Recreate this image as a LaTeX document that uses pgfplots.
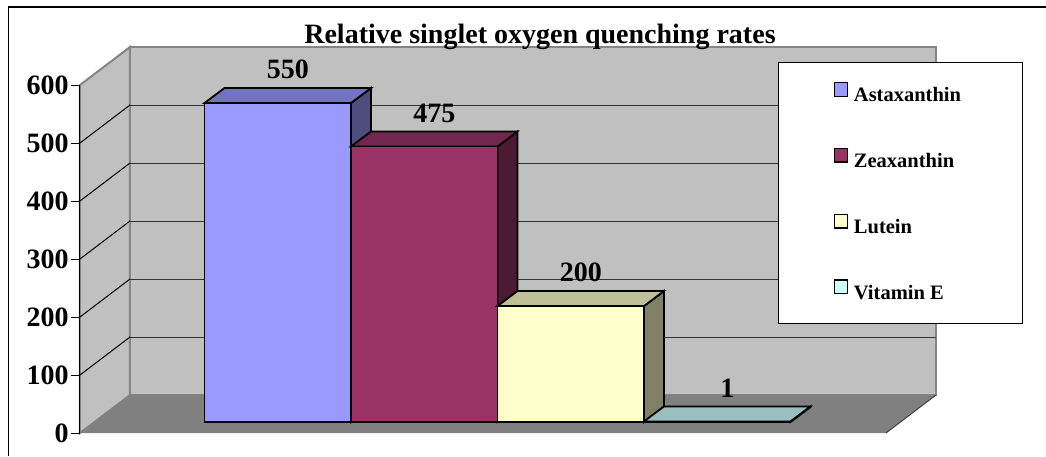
\documentclass[border=0pt]{standalone}
\usepackage{pgfplots}
\pgfplotsset{compat=1.18}
\usepackage{fontspec}
\setmainfont{Liberation Serif}
\definecolor{wall}{HTML}{C0C0C0}
\definecolor{floorc}{HTML}{808080}
\definecolor{edge}{HTML}{858585}
\definecolor{astaF}{HTML}{9999FF}
\definecolor{astaT}{HTML}{7373BF}
\definecolor{astaS}{HTML}{4D4D80}
\definecolor{zeaF}{HTML}{993366}
\definecolor{zeaT}{HTML}{73264D}
\definecolor{zeaS}{HTML}{4D1A33}
\definecolor{lutF}{HTML}{FFFFCC}
\definecolor{lutT}{HTML}{BFBF99}
\definecolor{lutS}{HTML}{808066}
\definecolor{vitF}{HTML}{CCFFFF}
\definecolor{vitT}{HTML}{99BFBF}
\definecolor{vitS}{HTML}{668080}
\newcommand{\bigfont}{\bfseries\fontsize{14}{17}\selectfont}
\newcommand{\legfont}{\bfseries\fontsize{10.25}{12}\selectfont}
\begin{document}
\begin{tikzpicture}
% ---------- axis 1: walls, floor, value axis, title ----------
\begin{axis}[
  x=0.5pt, y=0.29pt,
  xmin=80, xmax=886, ymin=0, ymax=600,
  clip=false, axis on top,
  axis x line=none, axis y line*=left,
  y axis line style={-, black, line width=0.5pt},
  ytick={0,100,...,600},
  tick align=outside, major tick length=4.5pt,
  ytick style={black, line width=0.5pt},
  /pgf/number format/assume math mode=true,
  yticklabel style={font=\bigfont, inner xsep=1pt},
  title={Relative singlet oxygen quenching rates},
  every axis title shift=0pt,
  title style={at={(0.5707,1.1207)}, anchor=base, font=\bigfont, inner sep=0pt},
]
% back wall
\addplot[fill=wall, draw=edge, line width=1pt] coordinates {(130,65.517) (936,65.517) (936,665.517) (130,665.517)} -- cycle;
% left wall
\addplot[fill=wall, draw=edge, line width=1pt] coordinates {(80,0) (130,65.517) (130,665.517) (80,600)} -- cycle;
% floor
\addplot[fill=floorc, draw=none] coordinates {(80,0) (130,65.517) (936,65.517) (886,0)} -- cycle;
\addplot[black!75, line width=0.5pt] coordinates {(886,0) (936,65.517)};
% gridlines on back wall
\addplot[black!80, line width=0.5pt] coordinates {(130,165.517) (936,165.517)};
\addplot[black!80, line width=0.5pt] coordinates {(130,265.517) (936,265.517)};
\addplot[black!80, line width=0.5pt] coordinates {(130,365.517) (936,365.517)};
\addplot[black!80, line width=0.5pt] coordinates {(130,465.517) (936,465.517)};
\addplot[black!80, line width=0.5pt] coordinates {(130,565.517) (936,565.517)};
% gridlines on left wall
\addplot[black, line width=0.5pt] coordinates {(80,100) (130,165.517)};
\addplot[black, line width=0.5pt] coordinates {(80,200) (130,265.517)};
\addplot[black, line width=0.5pt] coordinates {(80,300) (130,365.517)};
\addplot[black, line width=0.5pt] coordinates {(80,400) (130,465.517)};
\addplot[black, line width=0.5pt] coordinates {(80,500) (130,565.517)};
\end{axis}
% ---------- axis 2: the columns ----------
\begin{axis}[
  at={(7.25pt,5.5pt)},
  x=0.5pt, y=0.29pt,
  xmin=94.5, xmax=900.5, ymin=0, ymax=600,
  clip=false, hide axis,
  /pgf/number format/assume math mode=true,
  mybar/.style={ybar, bar width=146.5, bar shift=0pt, draw=black, line width=0.9pt,
    nodes near coords,
    every node near coord/.append style={font=\bigfont, inner sep=0pt, xshift=5pt, yshift=11.5pt, text=black},
    legend image code/.code={\draw[##1, draw=black, line width=0.7pt] (0pt,0pt) rectangle (6.3pt,6.8pt);}},
  face/.style={draw=black, line width=0.9pt, forget plot},
  legend style={at={(0.8480,1.0345)}, anchor=north west, draw=black, line width=0.5pt, fill=white,
    minimum width=122pt, minimum height=130.5pt, font=\legfont, row sep=20.5pt,
    nodes={minimum width=0pt, minimum height=0pt, text height=8pt, text depth=2.5pt, inner xsep=3pt, inner ysep=0pt}},
  legend cell align=left,
]
% Astaxanthin
\addplot[face, fill=astaS] coordinates {(351,0) (371,25.86) (371,575.86) (351,550)} -- cycle;
\addplot[face, fill=astaT] coordinates {(204.5,550) (224.5,575.86) (371,575.86) (351,550)} -- cycle;
\addplot[mybar, fill=astaF] coordinates {(277.75,550)};
\addlegendentry{Astaxanthin}
% Zeaxanthin
\addplot[face, fill=zeaS] coordinates {(497.5,0) (517.5,25.86) (517.5,500.86) (497.5,475)} -- cycle;
\addplot[face, fill=zeaT] coordinates {(351,475) (371,500.86) (517.5,500.86) (497.5,475)} -- cycle;
\addplot[mybar, fill=zeaF] coordinates {(424.25,475)};
\addlegendentry{Zeaxanthin}
% Lutein
\addplot[face, fill=lutS] coordinates {(644,0) (664,25.86) (664,225.86) (644,200)} -- cycle;
\addplot[face, fill=lutT] coordinates {(497.5,200) (517.5,225.86) (664,225.86) (644,200)} -- cycle;
\addplot[mybar, fill=lutF] coordinates {(570.75,200)};
\addlegendentry{Lutein}
% Vitamin E
\addplot[face, fill=vitS] coordinates {(790.5,0) (810.5,25.86) (810.5,26.86) (790.5,1)} -- cycle;
\addplot[face, fill=vitT] coordinates {(644,1) (664,26.86) (810.5,26.86) (790.5,1)} -- cycle;
\addplot[mybar, fill=vitF] coordinates {(717.25,1)};
\addlegendentry{Vitamin E}
\end{axis}
% chart area border (top and left edges visible)
\draw[black, line width=0.8pt] (483pt,213pt) -- (-35.75pt,213pt) -- (-35.75pt,-11.5pt);
\pgfresetboundingbox
\path[use as bounding box] (-40pt,-11.5pt) rectangle (483pt,216.5pt);
\end{tikzpicture}
\end{document}
